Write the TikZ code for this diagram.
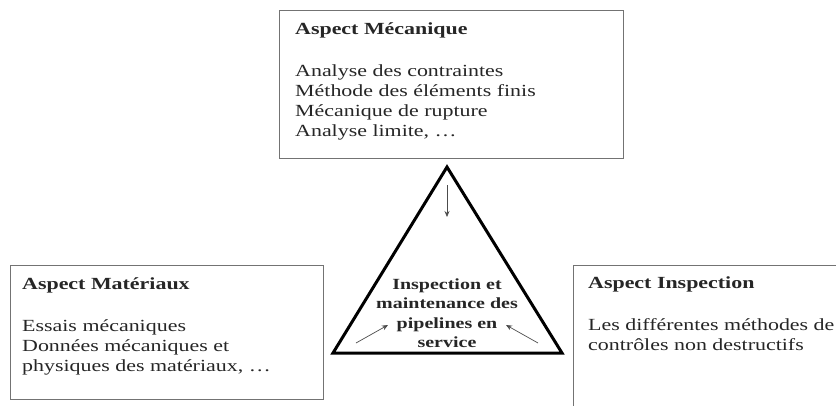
\documentclass[tikz,border=0pt]{standalone}
\usepackage{fontspec}
\setmainfont{Liberation Serif}[FakeStretch=1.29]
\usepackage{tikz}
\usetikzlibrary{arrows.meta,positioning,calc}

\tikzset{
  aspectbox/.style={draw=black!55, line width=1.3pt, anchor=north west, inner sep=0pt},
  aspecttxt/.style={anchor=north west, inner sep=0pt, align=left, text=black!85,
    font=\fontsize{17}{20}\selectfont},
  hubtxt/.style={align=center, inner sep=0pt, text=black!85,
    font=\fontsize{15.5}{19.5}\selectfont\bfseries},
  flow/.style={draw=black!70, line width=0.7pt, -{Stealth[length=6pt,width=5pt]}}
}

\begin{document}
\begin{tikzpicture}[x=1pt, y=-1pt]
  \useasboundingbox (0,0) rectangle (836,405);
  \clip (0,0) rectangle (836,405);

  % the three aspects
  \node[aspectbox, minimum width=344pt, minimum height=148pt] (meca) at (279,10) {};
  \node[aspecttxt] (mecatxt) at ($(meca.north west)+(16,12)$)
    {\textbf{Aspect Mécanique}\\[22pt]Analyse des contraintes\\Méthode des éléments finis\\Mécanique de rupture\\Analyse limite, \dots};

  \node[aspectbox, minimum width=313pt, minimum height=134pt] (mat) at (10,265) {};
  \node[aspecttxt] (mattxt) at ($(mat.north west)+(12,12)$)
    {\textbf{Aspect Matériaux}\\[22pt]Essais mécaniques\\Données mécaniques et\\physiques des matériaux, \dots};

  \node[aspectbox, minimum width=300pt, minimum height=160pt] (insp) at (573,265) {};
  \node[aspecttxt] (insptxt) at ($(insp.north west)+(15,11)$)
    {\textbf{Aspect Inspection}\\[22pt]Les différentes méthodes de\\contrôles non destructifs};

  % central triangle
  \coordinate (top) at (447,167);
  \coordinate (bl) at (333,353);
  \coordinate (br) at (562,353);
  \draw[line width=3pt, line join=miter] (top) -- (bl) -- (br) -- cycle;
  \node[hubtxt] (hub) at (447,313)
    {Inspection et\\maintenance des\\pipelines en\\service};

  % small arrows
  \coordinate (a1) at (447,185);
  \coordinate (a2) at (447,217);
  \coordinate (b1) at (356,343);
  \coordinate (b2) at (388,325);
  \coordinate (c1) at (538,343);
  \coordinate (c2) at (506,325);
  \draw[flow] (a1) -- (a2);
  \draw[flow] (b1) -- (b2);
  \draw[flow] (c1) -- (c2);
\end{tikzpicture}
\end{document}
